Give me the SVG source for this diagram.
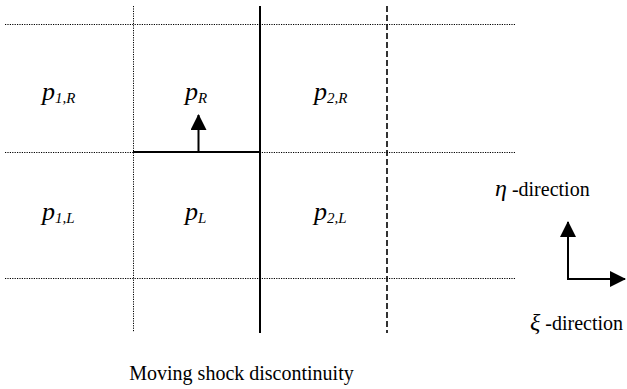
<svg xmlns="http://www.w3.org/2000/svg" width="627" height="389" viewBox="0 0 627 389">
<style>
.dot{stroke:#000;stroke-width:1;stroke-dasharray:1.2 1.2;fill:none}
.solid{stroke:#000;stroke-width:2;fill:none}
.dash{stroke:#000;stroke-width:1.6;stroke-dasharray:6 3;fill:none}
.lab{font-family:"Liberation Serif","Times New Roman","DejaVu Serif",serif;font-size:26px;font-style:italic}
.sub{font-size:15px}
.txt{font-family:"Liberation Serif","Times New Roman","DejaVu Serif",serif;font-size:20px}
</style>
<defs>
<marker id="ah2" markerWidth="16" markerHeight="16" refX="15" refY="8" orient="auto" markerUnits="userSpaceOnUse" viewBox="0 0 16 16"><path d="M0,0 L16,8 L0,16 Z" fill="#000"/></marker>
</defs>
<g id="grid">
<line class="dot" x1="5" y1="24.5" x2="515" y2="24.5"/>
<line class="dot" x1="5" y1="152.5" x2="515" y2="152.5"/>
<line class="dot" x1="5" y1="278.5" x2="515" y2="278.5"/>
<line class="dot" x1="133.5" y1="6" x2="133.5" y2="332"/>
</g>
<g id="connectors">
<line class="solid" x1="260" y1="6" x2="260" y2="333"/>
<line class="dash" x1="387" y1="6" x2="387" y2="333"/>
<line class="solid" x1="133" y1="152" x2="260" y2="152"/>
<line stroke="#000" stroke-width="2" x1="198.5" y1="152" x2="198.5" y2="115" marker-end="url(#ah2)"/>
<line stroke="#000" stroke-width="2" x1="568" y1="280" x2="568" y2="222" marker-end="url(#ah2)"/>
<line stroke="#000" stroke-width="2" x1="567" y1="279" x2="625" y2="279" marker-end="url(#ah2)"/>
</g>
<g id="p1R"><text class="lab" x="42" y="100">p<tspan class="sub" dy="3">1,R</tspan></text></g>
<g id="pR"><text class="lab" x="185" y="100">p<tspan class="sub" dy="3">R</tspan></text></g>
<g id="p2R"><text class="lab" x="314" y="100">p<tspan class="sub" dy="3">2,R</tspan></text></g>
<g id="p1L"><text class="lab" x="42" y="220">p<tspan class="sub" dy="3">1,L</tspan></text></g>
<g id="pL"><text class="lab" x="185" y="220">p<tspan class="sub" dy="3">L</tspan></text></g>
<g id="p2L"><text class="lab" x="314" y="220">p<tspan class="sub" dy="3">2,L</tspan></text></g>
<g id="eta"><text class="txt" x="495" y="196"><tspan font-style="italic" font-size="24">η</tspan> -direction</text></g>
<g id="xi"><text class="txt" x="623" y="330" text-anchor="end"><tspan font-style="italic" font-size="24">ξ</tspan> -direction</text></g>
<g id="caption"><text class="txt" x="241.5" y="380" text-anchor="middle" font-size="23">Moving shock discontinuity</text></g>
</svg>
